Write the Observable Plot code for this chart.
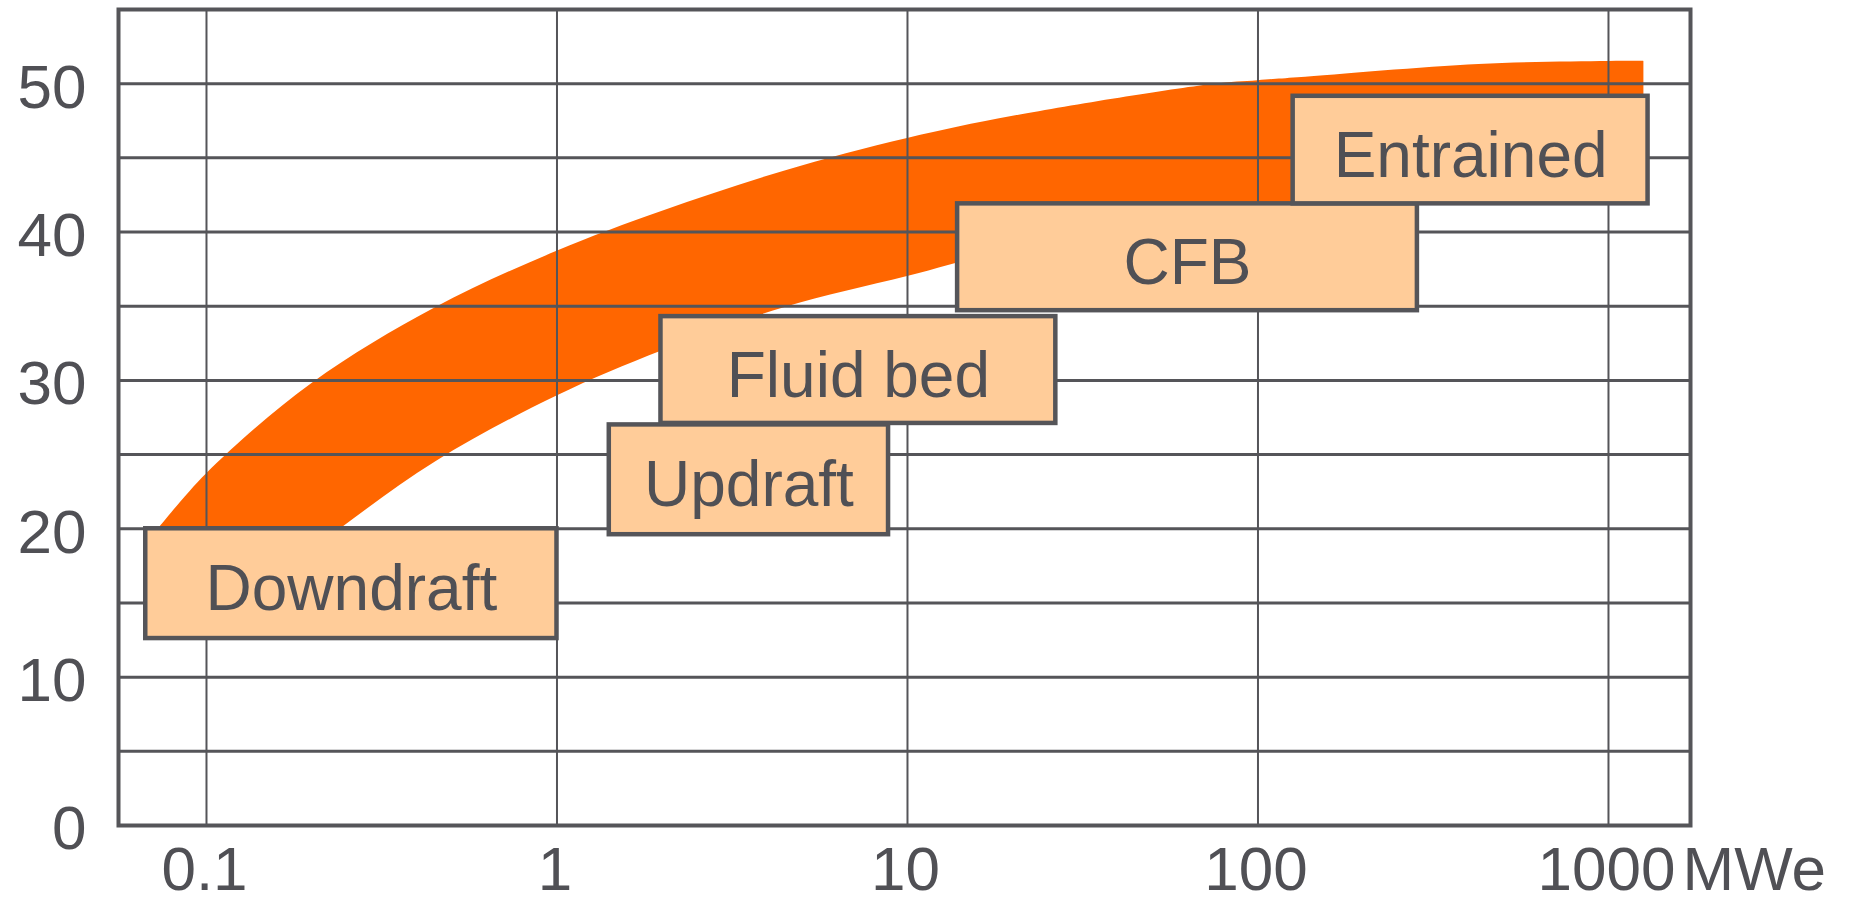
<!DOCTYPE html>
<html>
<head>
<meta charset="utf-8">
<script src="https://cdn.jsdelivr.net/npm/d3@7"></script>
<script src="https://cdn.jsdelivr.net/npm/@observablehq/plot@0.6"></script>
<style>
  html, body { margin: 0; padding: 0; background: #ffffff; }
  #chart svg { display: block; }
</style>
</head>
<body>
<div id="chart"></div>
<script>
// ---- data ----
const xTicks = [0.1, 1, 10, 100, 1000];
const xTickLabels = ["0.1", "1", "10", "100", "1000"];
const yTicks = [0, 10, 20, 30, 40, 50];
const yGridLines = [5, 10, 15, 20, 25, 30, 35, 40, 45, 50];
const xUnit = "MWe";

// orange efficiency band (upper / lower edges)
const bandX     = [0.073, 0.1, 0.2, 0.45, 1, 2, 4.45, 10, 20, 74, 100, 130, 427, 1000, 1262];
const bandUpper = [20.0, 23.7, 29.8, 34.9, 38.7, 41.4, 44.1, 46.3, 47.8, 49.95, 50.2, 50.4, 51.3, 51.5, 51.5];
const bandLower = [13.2, 13.5, 18.6, 24.5, 28.95, 32.0, 34.9, 37.0, 38.8, 40.8, 41.2, 41.5, 42.8, 44.0, 44.3];

// gasifier type boxes
const boxNames = ["Downdraft", "Updraft", "Fluid bed", "CFB", "Entrained"];
const boxXFrom = [0.0671, 1.41, 1.98, 13.9, 126];
const boxXTo   = [1.0, 8.83, 26.5, 285, 1297];
const boxYLow  = [12.6, 19.6, 27.1, 34.7, 41.9];
const boxYHigh = [20.0, 27.0, 34.3, 41.9, 49.15];

// ---- build tables ----
const band = bandX.map((x, i) => ({x, lo: bandLower[i], hi: bandUpper[i]}));
const boxes = boxNames.map((name, i) => ({
  name, x1: boxXFrom[i], x2: boxXTo[i], y1: boxYLow[i], y2: boxYHigh[i],
  xc: Math.sqrt(boxXFrom[i] * boxXTo[i]), yc: (boxYLow[i] + boxYHigh[i]) / 2
}));

const GRAY = "#555559";
const TEXT = "#505055";
const ORANGE = "#FF6600";
const FILL = "#FFCC99";

const chart = Plot.plot({
  width: 1854,
  height: 904,
  marginLeft: 118,
  marginRight: 164,
  marginTop: 9,
  marginBottom: 79,
  style: {fontFamily: "'Liberation Sans', Arial, sans-serif", background: "#ffffff", color: TEXT},
  x: {type: "log", domain: [0.0561, 1714]},
  y: {domain: [0, 55]},
  marks: [
    Plot.areaY(band, {x: "x", y1: "lo", y2: "hi", fill: ORANGE, curve: "catmull-rom"}),
    Plot.ruleY(yGridLines, {stroke: GRAY, strokeWidth: 3}),
    Plot.ruleX(xTicks, {stroke: GRAY, strokeWidth: 2}),
    Plot.frame({stroke: GRAY, strokeWidth: 4}),
    Plot.rect(boxes, {x1: "x1", x2: "x2", y1: "y1", y2: "y2", fill: FILL, stroke: GRAY, strokeWidth: 4.5}),
    Plot.text(boxes, {x: "xc", y: "yc", text: "name", fontSize: 64, fill: TEXT, dy: 6}),
    Plot.axisY(yTicks, {tickSize: 0, tickPadding: 32, fontSize: 62, fill: TEXT, label: null, dy: 4}),
    Plot.axisX(xTicks, {tickSize: 0, tickPadding: 20, fontSize: 62, fill: TEXT, label: null, dx: -2,
      tickFormat: (d) => xTickLabels[xTicks.indexOf(d)]}),
    Plot.text([xUnit], {x: 1000, frameAnchor: "bottom", text: (d) => d, textAnchor: "start",
      lineAnchor: "top", dx: 74, dy: 20, fontSize: 62, fill: TEXT})
  ]
});
document.getElementById("chart").appendChild(chart);
</script>
</body>
</html>
